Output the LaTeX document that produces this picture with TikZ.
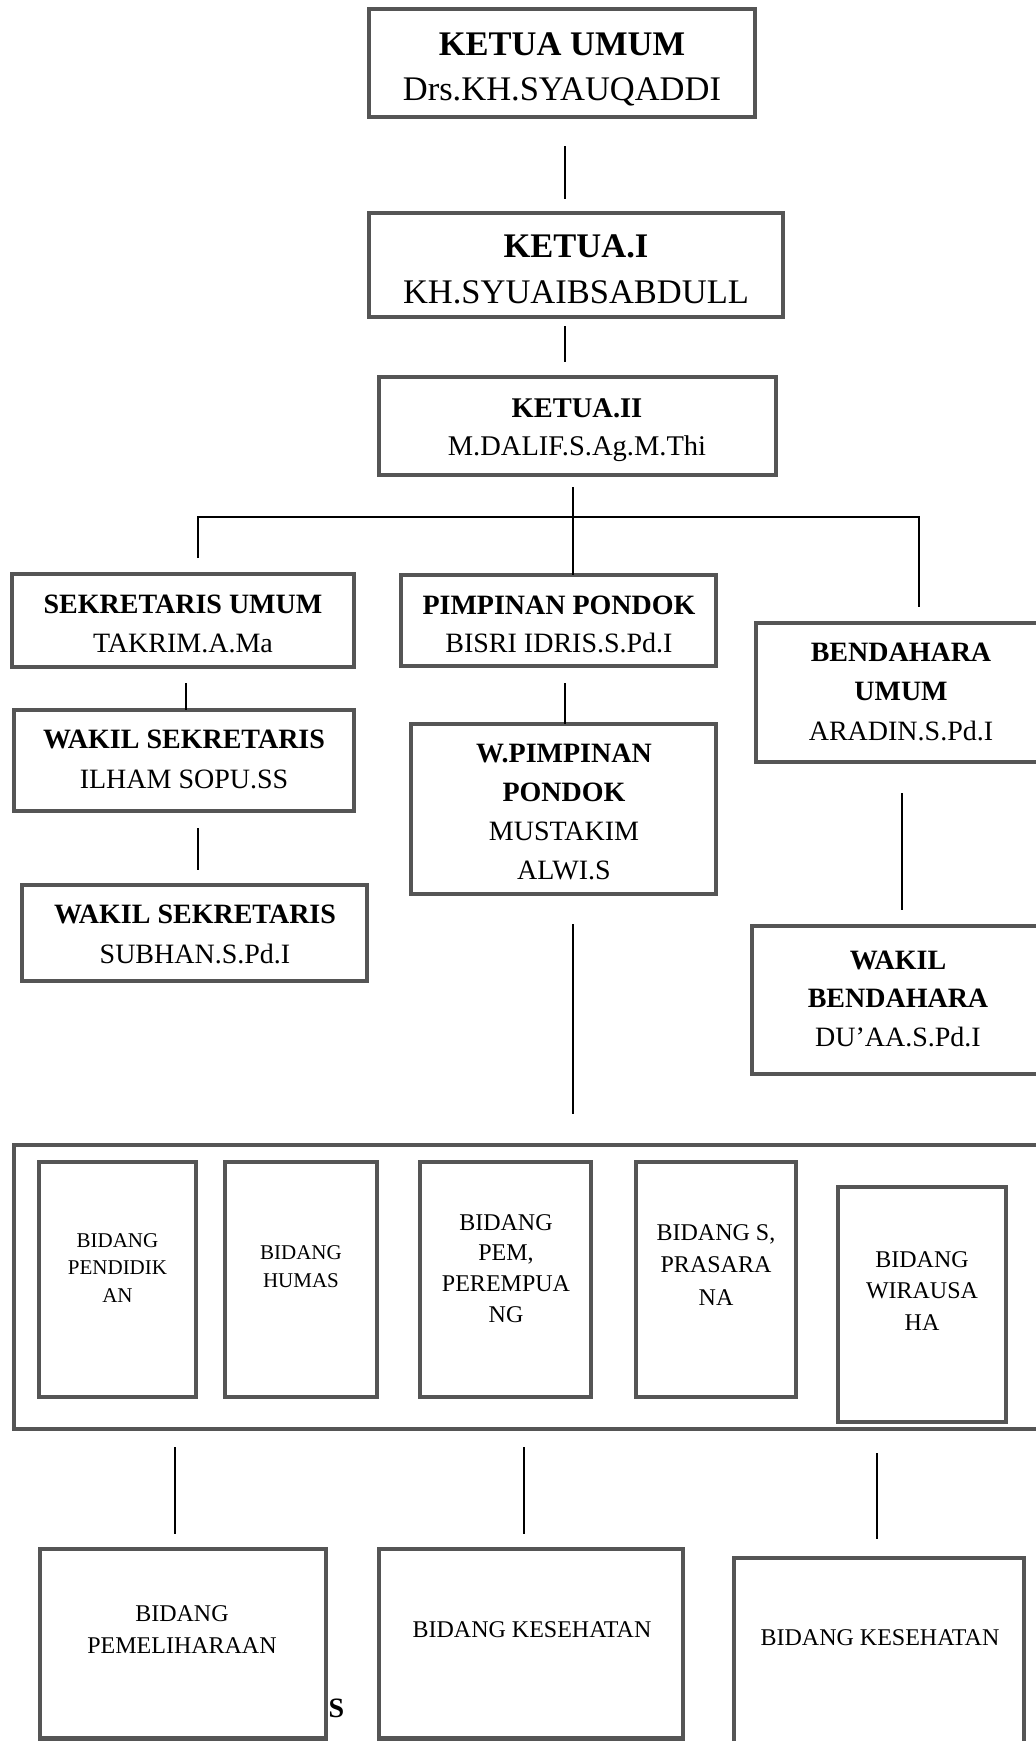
\documentclass[tikz,border=0pt]{standalone}
\usepackage{fontspec}
\setmainfont{Liberation Serif}
\usetikzlibrary{fit}
\definecolor{boxc}{RGB}{85,85,85}
\newcommand\lines[3]{\fontsize{#1}{#2}\selectfont\begin{tabular}[t]{@{}c@{}}#3\end{tabular}}
\begin{document}
\begin{tikzpicture}[x=1pt,y=-1pt,
  box/.style={draw=boxc, line width=4.5pt, fill=white, inner sep=0pt, outer sep=0pt},
  txt/.style={anchor=base, inner sep=0pt, outer sep=0pt},
  conn/.style={draw=black, line width=2pt}]
\useasboundingbox (0,0) rectangle (1036,1741);
\fill[white] (0,0) rectangle (1036,1741);
\clip (0,0) rectangle (1036,1741);

% ---------- boxes ----------
\node[box, fit={(369,9) (755,117)}] (ku) {};
\node[box, fit={(369,213) (783,317)}] (k1) {};
\node[box, fit={(379,377) (776,475)}] (k2) {};
\node[box, fit={(12,574) (354,667)}] (su) {};
\node[box, fit={(14,710) (354,811)}] (ws1) {};
\node[box, fit={(22,885) (367,981)}] (ws2) {};
\node[box, fit={(401,575) (716,666)}] (pp) {};
\node[box, fit={(411,724) (716,894)}] (wp) {};
\node[box, fit={(756,623) (1046,762)}] (bu) {};
\node[box, fit={(752,926) (1046,1074)}] (wb) {};
\node[box, fit={(14,1145) (1046,1429)}] (cont) {};
\node[box, fit={(39,1162) (196,1397)}] (b1) {};
\node[box, fit={(225,1162) (377,1397)}] (b2) {};
\node[box, fit={(420,1162) (591,1397)}] (b3) {};
\node[box, fit={(636,1162) (796,1397)}] (b4) {};
\node[box, fit={(838,1187) (1006,1422)}] (b5) {};
\node[box, fit={(40,1549) (326,1738.5)}] (bb1) {};
\node[box, fit={(379,1549) (683,1738.5)}] (bb2) {};
\node[box, fit={(734,1558) (1024,1748)}] (bb3) {};

% ---------- texts ----------
\node[txt] (kut) at (562,55) {\lines{34.5}{45}{\textbf{KETUA UMUM}\\Drs.KH.SYAUQADDI}};
\node[txt] (k1t) at (576,257) {\lines{34.5}{46}{\textbf{KETUA.I}\\KH.SYUAIBSABDULL}};
\node[txt] (k2t) at (577,417) {\lines{28.5}{38}{\textbf{KETUA.II}\\M.DALIF.S.Ag.M.Thi}};
\node[txt] (sut) at (183,613) {\lines{28}{39}{\textbf{SEKRETARIS UMUM}\\TAKRIM.A.Ma}};
\node[txt] (ws1t) at (184,748) {\lines{28}{40}{\textbf{WAKIL SEKRETARIS}\\ILHAM SOPU.SS}};
\node[txt] (ws2t) at (195,923) {\lines{28}{40}{\textbf{WAKIL SEKRETARIS}\\SUBHAN.S.Pd.I}};
\node[txt] (ppt) at (559,614) {\lines{28}{38}{\textbf{PIMPINAN PONDOK}\\BISRI IDRIS.S.Pd.I}};
\node[txt] (wpt) at (564,762) {\lines{28}{39}{\textbf{W.PIMPINAN}\\\textbf{PONDOK}\\MUSTAKIM\\ALWI.S}};
\node[txt] (but) at (901,661) {\lines{28}{39.5}{\textbf{BENDAHARA}\\\textbf{UMUM}\\ARADIN.S.Pd.I}};
\node[txt] (wbt) at (898,969) {\lines{28}{38.5}{\textbf{WAKIL}\\\textbf{BENDAHARA}\\DU’AA.S.Pd.I}};

\node[txt] (b1t) at (117.5,1247) {\lines{21}{27.5}{BIDANG\\PENDIDIK\\AN}};
\node[txt] (b2t) at (301,1259) {\lines{21}{28}{BIDANG\\HUMAS}};
\node[txt] (b3t) at (506,1230) {\lines{24}{30.7}{BIDANG\\PEM,\\PEREMPUA\\NG}};
\node[txt] (b4t) at (716,1240) {\lines{24}{32.5}{BIDANG S,\\PRASARA\\NA}};
\node[txt] (b5t) at (922,1267) {\lines{24}{31.5}{BIDANG\\WIRAUSA\\HA}};
\node[txt] (bb1t) at (182,1621) {\lines{24}{32}{BIDANG\\PEMELIHARAAN}};
\node[txt] (bb2t) at (532,1637) {\lines{24}{32}{BIDANG KESEHATAN}};
\node[txt] (bb3t) at (880,1645) {\lines{24}{32}{BIDANG KESEHATAN}};
\node[txt] (st) at (336.5,1717) {\fontsize{28}{32}\selectfont\textbf{S}};

% ---------- connectors ----------
\coordinate (c1a) at (565,146);   \coordinate (c1b) at (565,199);
\coordinate (c2a) at (565,326);   \coordinate (c2b) at (565,362);
\coordinate (c3a) at (573,487);   \coordinate (c3b) at (573,575);
\coordinate (busL) at (198,516.5); \coordinate (busR) at (919,516.5);
\coordinate (busLd) at (198,558); \coordinate (busRd) at (919,607);
\coordinate (c4a) at (186,683);   \coordinate (c4b) at (186,710);
\coordinate (c5a) at (198,828);   \coordinate (c5b) at (198,870);
\coordinate (c6a) at (565,683);   \coordinate (c6b) at (565,724);
\coordinate (c7a) at (902,793);   \coordinate (c7b) at (902,910);
\coordinate (c8a) at (573,924);   \coordinate (c8b) at (573,1114);
\coordinate (c9a) at (175,1447);  \coordinate (c9b) at (175,1534);
\coordinate (c10a) at (524,1447); \coordinate (c10b) at (524,1534);
\coordinate (c11a) at (877,1453); \coordinate (c11b) at (877,1539);

\draw[conn] (c1a) -- (c1b);
\draw[conn] (c2a) -- (c2b);
\draw[conn] (c3a) -- (c3b);
\draw[conn] (busLd) -- (busL) -- (busR) -- (busRd);
\draw[conn] (c4a) -- (c4b);
\draw[conn] (c5a) -- (c5b);
\draw[conn] (c6a) -- (c6b);
\draw[conn] (c7a) -- (c7b);
\draw[conn] (c8a) -- (c8b);
\draw[conn] (c9a) -- (c9b);
\draw[conn] (c10a) -- (c10b);
\draw[conn] (c11a) -- (c11b);
\end{tikzpicture}
\end{document}
